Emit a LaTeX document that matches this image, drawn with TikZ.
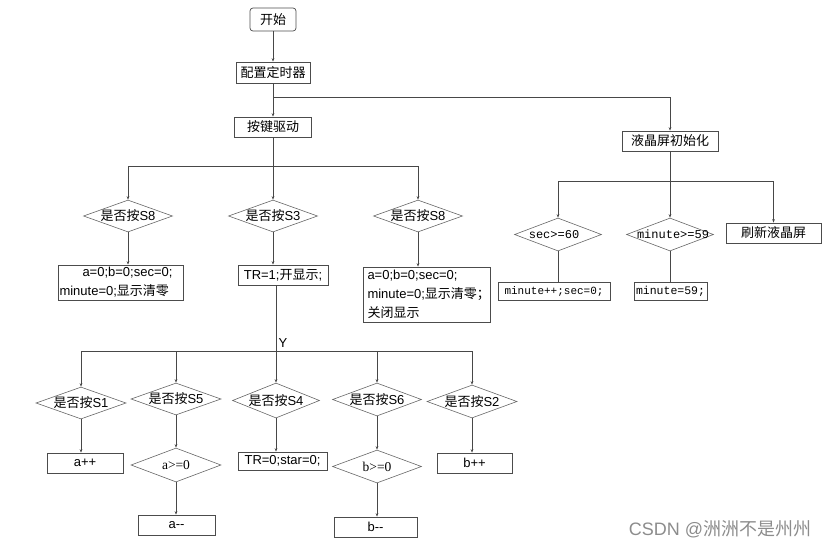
\documentclass[tikz,border=0pt]{standalone}
\usepackage{fontspec}
\setmainfont{Liberation Sans}
\newfontfamily\cjk{Noto Sans CJK SC}
\newfontfamily\monof{Liberation Mono}
\newfontfamily\seriff{Liberation Serif}
\usetikzlibrary{shapes.geometric,arrows.meta}
\tikzset{
  ln/.style={draw=black!72, line width=0.7pt},
  arr/.style={ln, -{Stealth[length=3.5pt,width=2.6pt]}},
  boxn/.style={draw=black!70, line width=0.7pt, rectangle, inner sep=0pt, font=\fontsize{13}{19}\selectfont},
  rboxn/.style={boxn, rounded corners=3pt},
  dian/.style={draw=black!60, line width=0.6pt, diamond, inner sep=0pt, font=\fontsize{13}{15}\selectfont},
}
\newcommand{\zb}[1]{\makebox[0pt]{#1}}
\begin{document}
\begin{tikzpicture}[x=1pt,y=-1pt]
\useasboundingbox (0,0) rectangle (829,552);
% top
\node[rboxn, minimum width=46pt, minimum height=23pt] (start) at (273,19.5) {\cjk 开始};
\node[boxn, minimum width=74pt, minimum height=21pt] (cfg) at (273,72.5) {\cjk 配置定时器};
\node[boxn, minimum width=77pt, minimum height=20pt] (key) at (273,127) {\cjk 按键驱动};
\node[boxn, minimum width=96pt, minimum height=20pt] (lcd) at (670,141) {\cjk 液晶屏初始化};
\coordinate (j1) at (273,97);
\coordinate (j2) at (273,166);
\coordinate (j4) at (670,181);
\draw[arr] (start.south) -- (cfg.north);
\draw[arr] (cfg.south) -- (key.north);
\draw[arr] (j1) -| (lcd.north);
% second level
\node[dian, minimum width=89pt, minimum height=32pt] (d1) at (128,216) {\zb{\cjk 是否按\fontspec{Liberation Sans}S8}};
\node[dian, minimum width=89pt, minimum height=32pt] (d2) at (273,216) {\zb{\cjk 是否按\fontspec{Liberation Sans}S3}};
\node[dian, minimum width=89pt, minimum height=32pt] (d3) at (418,216) {\zb{\cjk 是否按\fontspec{Liberation Sans}S8}};
\draw[arr] (key.south) -- (d2.north);
\draw[arr] (j2) -| (d1.north);
\draw[arr] (j2) -| (d3.north);
\node[boxn, minimum width=125pt, minimum height=35pt, align=left, text width=122pt] (b1) at (120.5,282.5)
  {\hspace*{23pt}a=0;b=0;sec=0;\\minute=0;{\cjk 显示清零}};
\node[boxn, minimum width=90pt, minimum height=20pt] (b2) at (283,275) {TR=1;{\cjk 开显示};};
\node[boxn, minimum width=127pt, minimum height=55pt, align=left, text width=118pt] (b3) at (426.5,294.5)
  {a=0;b=0;sec=0;\\minute=0;{\cjk 显示清零；}\\{\cjk 关闭显示}};
\draw[arr] (d1.south) -- (d1.south |- b1.north);
\draw[arr] (d2.south) -- (d2.south |- b2.north);
\draw[arr] (d3.south) -- (d3.south |- b3.north);
% third level
\coordinate (j3) at (276,351);
\draw[ln] (j3 |- b2.south) -- (j3);
\node[font=\fontsize{13}{14}\selectfont, inner sep=0pt] (ylab) at (283,343) {Y};
\node[dian, minimum width=90pt, minimum height=32pt] (e1) at (81,403) {\zb{\cjk 是否按\fontspec{Liberation Sans}S1}};
\node[dian, minimum width=90pt, minimum height=32pt] (e2) at (176,399) {\zb{\cjk 是否按\fontspec{Liberation Sans}S5}};
\node[dian, minimum width=87pt, minimum height=35pt] (e3) at (276,400.5) {\zb{\cjk 是否按\fontspec{Liberation Sans}S4}};
\node[dian, minimum width=89pt, minimum height=33pt] (e4) at (377,399.5) {\zb{\cjk 是否按\fontspec{Liberation Sans}S6}};
\node[dian, minimum width=90pt, minimum height=33pt] (e5) at (472,401.5) {\zb{\cjk 是否按\fontspec{Liberation Sans}S2}};
\draw[arr] (j3) -- (e3.north);
\draw[arr] (j3) -| (e1.north);
\draw[arr] (j3) -| (e2.north);
\draw[arr] (j3) -| (e4.north);
\draw[arr] (j3) -| (e5.north);
\node[boxn, minimum width=76pt, minimum height=20pt] (f1) at (85,463) {a++};
\node[dian, minimum width=90pt, minimum height=34pt] (g2) at (176,465) {\zb{\seriff\fontsize{13.5}{15}\selectfont a>=0}};
\node[boxn, minimum width=77pt, minimum height=20pt] (h2) at (176.5,525) {a-{}-};
\node[boxn, minimum width=89pt, minimum height=18pt] (f3) at (282.5,461) {TR=0;star=0;};
\node[dian, minimum width=89pt, minimum height=33pt] (g4) at (377,466.5) {\zb{\seriff\fontsize{13.5}{15}\selectfont b>=0}};
\node[boxn, minimum width=83pt, minimum height=20pt] (h4) at (375.5,527) {b-{}-};
\node[boxn, minimum width=75pt, minimum height=20pt] (f5) at (474.5,463) {b++};
\draw[arr] (e1.south) -- (e1.south |- f1.north);
\draw[arr] (e2.south) -- (g2.north);
\draw[arr] (g2.south) -- (g2.south |- h2.north);
\draw[arr] (e3.south) -- (e3.south |- f3.north);
\draw[arr] (e4.south) -- (g4.north);
\draw[arr] (g4.south) -- (g4.south |- h4.north);
\draw[arr] (e5.south) -- (e5.south |- f5.north);
% right side
\draw[ln] (lcd.south) -- (j4);
\node[dian, minimum width=87pt, minimum height=33pt] (r1) at (558,234.5) {\zb{\hspace*{-8pt}\monof\fontsize{12}{14}\selectfont sec>=60}};
\node[dian, minimum width=87pt, minimum height=33pt] (r2) at (670,234.5) {\zb{\hspace*{6pt}\monof\fontsize{12}{14}\selectfont minute>=59}};
\node[boxn, minimum width=95pt, minimum height=20pt] (r3) at (773.5,233) {\cjk 刷新液晶屏};
\draw[arr] (j4) -- (r2.north);
\draw[arr] (j4) -| (r1.north);
\draw[arr] (j4) -| (r3.north);
\node[boxn, minimum width=112pt, minimum height=18pt, font=\monof\fontsize{11}{14}\selectfont] (s1) at (554,291) {minute++;sec=0;};
\node[boxn, minimum width=73pt, minimum height=18pt, font=\monof\fontsize{11.5}{14}\selectfont] (s2) at (670.5,291) {minute=59;};
\draw[ln] (r1.south) -- (r1.south |- s1.north);
\draw[ln] (r2.south) -- (r2.south |- s2.north);
% watermark
\node[text=black!45, font=\fontsize{18}{20}\selectfont, inner sep=0pt] (wm) at (720,529) {CSDN @{\cjk 洲洲不是州州}};
\end{tikzpicture}
\end{document}
